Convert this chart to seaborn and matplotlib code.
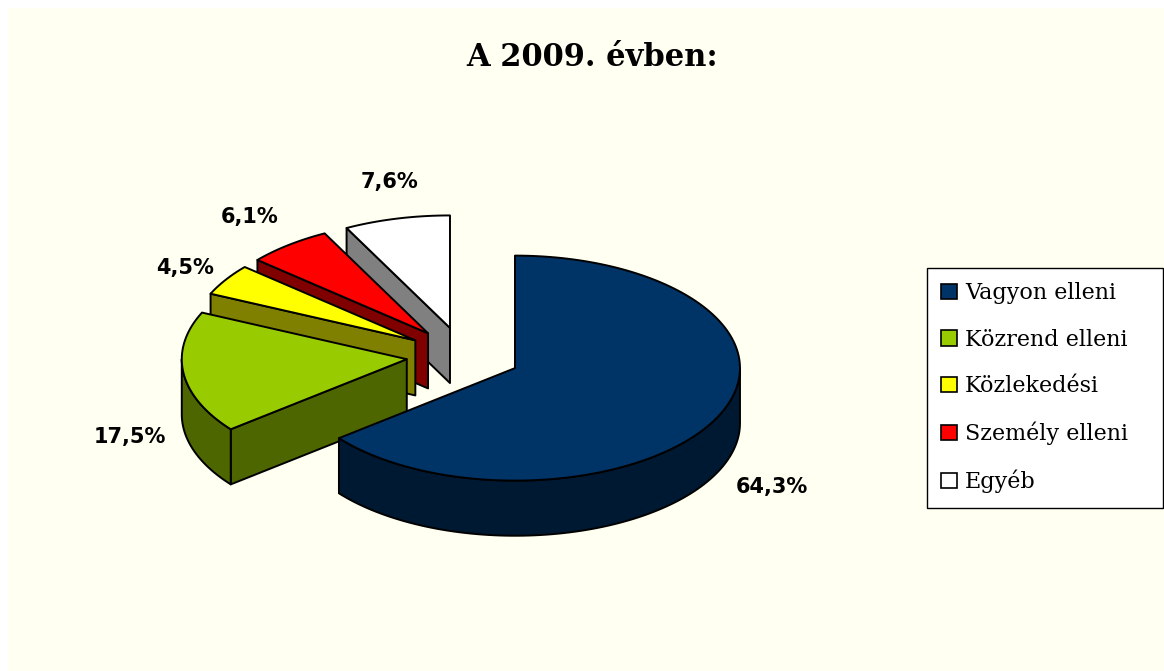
import numpy as np
import matplotlib
matplotlib.use('Agg')
import matplotlib.pyplot as plt
from matplotlib.patches import Patch, Polygon, Rectangle
import seaborn as sns

# data (share of crimes, %)
categories = ['Vagyon elleni', 'Közrend elleni', 'Közlekedési', 'Személy elleni', 'Egyéb']
shares = [64.3, 17.5, 4.5, 6.1, 7.6]
title = 'A 2009. évben:'

top_colors = ['#003366', '#99CC00', '#FFFF00', '#FF0000', '#FFFFFF']
side_colors = ['#001933', '#4D6600', '#808000', '#800000', '#808080']

# label nudges in pixels from the outer point of each slice (styling only)
label_nudge = [(54, 70), (-54, 64), (-41, -12), (-39, -28), (-7, -37)]

sns.set_style('white')
plt.rcParams['font.family'] = ['DejaVu Sans']
plt.rcParams['text.color'] = 'black'

W, H = 1164, 671
scale = 225.0        # px per pie radius
cx_px, cy_px = 463.5, 355.7
tilt = 0.5
depth = 0.245
explode = 0.254

fig = plt.figure(figsize=(W / 100, H / 100), dpi=100)
fig.patch.set_facecolor('white')
fig.add_artist(Rectangle((8 / W, 0), 1 - 8 / W, 1 - 8 / H, transform=fig.transFigure,
                         facecolor='#FFFFF2', edgecolor='none', zorder=-10))

ax = fig.add_axes([0, 0, 1, 1])
ax.set_xlim(-cx_px / scale, (W - cx_px) / scale)
ax.set_ylim(-(H - cy_px) / scale, cy_px / scale)
ax.axis('off')
ax.patch.set_alpha(0)


def pt(theta, c, r=1.0, dz=0.0):
    t = np.radians(theta)
    return (c[0] + r * np.sin(t), c[1] + r * np.cos(t) * tilt - dz)


def arc(t1, t2, c, dz=0.0):
    n = max(int(abs(t2 - t1) / 1.5) + 2, 3)
    return [pt(t, c, dz=dz) for t in np.linspace(t1, t2, n)]


total = sum(shares)
bounds = np.concatenate([[0], np.cumsum(shares)]) / total * 360.0

slices = []
for i, v in enumerate(shares):
    t1, t2 = bounds[i], bounds[i + 1]
    mid = (t1 + t2) / 2
    c = pt(mid, (0, 0), r=explode)
    slices.append((i, t1, t2, mid, c))

# paint back slices first
order = sorted(slices, key=lambda s: -s[4][1])
z = 1
edge_kw = dict(edgecolor='black', linewidth=1.4, joinstyle='round')
for i, t1, t2, mid, c in order:
    faces = []
    if np.sin(np.radians(t1)) < -1e-6:
        p = pt(t1, c)
        faces.append([c, p, (p[0], p[1] - depth), (c[0], c[1] - depth)])
    if np.sin(np.radians(t2)) > 1e-6:
        p = pt(t2, c)
        faces.append([c, p, (p[0], p[1] - depth), (c[0], c[1] - depth)])
    a, b = max(t1, 90.0), min(t2, 270.0)
    if b > a:
        faces.append(arc(a, b, c) + arc(b, a, c, dz=depth))
    for f in faces:
        ax.add_patch(Polygon(f, closed=True, facecolor=side_colors[i], zorder=z, **edge_kw))
        z += 1
    ax.add_patch(Polygon([c] + arc(t1, t2, c), closed=True, facecolor=top_colors[i],
                         zorder=z, **edge_kw))
    z += 1

for i, t1, t2, mid, c in slices:
    txt = f'{shares[i]:.1f}%'.replace('.', ',')
    dx, dy = label_nudge[i]
    ax.annotate(txt, xy=pt(mid, c), xytext=(dx, -dy), textcoords='offset pixels',
                ha='center', va='center', fontsize=15, fontweight='bold', zorder=50)

fig.text(592 / W, 1 - 57 / H, title, ha='center', va='center', fontsize=22,
         fontweight='bold', family='DejaVu Serif')

handles = [Patch(facecolor=col, edgecolor='black', linewidth=1.2) for col in top_colors]
leg = fig.legend(handles, categories, loc='upper left',
                 bbox_to_anchor=(927 / W, 1 - 500 / H, 236 / W, 232 / H), mode='expand',
                 frameon=True, fancybox=False, edgecolor='black', framealpha=1,
                 prop={'family': 'DejaVu Serif', 'size': 16}, handlelength=0.7,
                 handleheight=0.7, handletextpad=0.35, labelspacing=1.1, borderpad=0.65,
                 borderaxespad=0)
leg.get_frame().set_linewidth(1.0)

fig.savefig('out.png', dpi=100, facecolor=fig.get_facecolor())
